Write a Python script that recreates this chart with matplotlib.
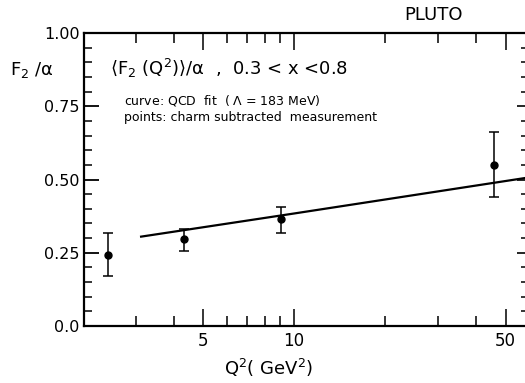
import numpy as np
import matplotlib
matplotlib.use("Agg")
import matplotlib.pyplot as plt
from matplotlib.ticker import FixedLocator, NullFormatter

plt.rcParams['font.family'] = ['DejaVu Sans']
plt.rcParams['mathtext.default'] = 'regular'

# measured points (charm subtracted)
q2 = [2.42, 4.33, 9.08, 45.7]
f2 = [0.242, 0.296, 0.364, 0.549]
err_up = [0.075, 0.035, 0.041, 0.112]
err_dn = [0.071, 0.039, 0.046, 0.108]

# QCD fit curve
fit_q2 = [3.12, 10.0, 58.0]
fit_f2 = [0.305, 0.384, 0.505]

x_major = [5, 10, 50]
x_minor = [3, 4, 6, 7, 8, 9, 20, 30, 40]
y_major = [0.0, 0.25, 0.50, 0.75, 1.00]
y_labels = ['0.0', '0.25', '0.50', '0.75', '1.00']

W, H = 525, 383
fig = plt.figure(figsize=(W / 100, H / 100), dpi=100)
ax = fig.add_axes([84 / W, 1 - 326 / H, 1.0 - 84 / W, (326 - 33) / H])

ax.plot(fit_q2, fit_f2, color='black', lw=1.6)
ax.errorbar(q2, f2, yerr=[err_dn, err_up], fmt='o', color='black',
            ms=5, elinewidth=1.1, capsize=3.5, capthick=1.1)

ax.set_xscale('log')
ax.set_xlim(2.02, 58)
ax.set_ylim(0, 1.0)

ax.xaxis.set_major_locator(FixedLocator(x_major))
ax.xaxis.set_minor_locator(FixedLocator(x_minor))
ax.xaxis.set_minor_formatter(NullFormatter())
ax.set_xticklabels(['5', '10', '50'])
ax.yaxis.set_major_locator(FixedLocator(y_major))
ax.yaxis.set_minor_locator(FixedLocator(np.arange(0.05, 1.0, 0.05)))
ax.set_yticklabels(y_labels)

ax.tick_params(axis='x', which='major', direction='in', length=12, width=1.1,
               top=True, labelsize=12, pad=4)
ax.tick_params(axis='x', which='minor', direction='in', length=7, width=1.1, top=True)
ax.tick_params(axis='y', which='major', direction='in', length=11, width=1.3,
               labelsize=11.5, pad=3)
ax.tick_params(axis='y', which='minor', direction='in', length=6, width=1.1)

for side in ['left', 'bottom', 'top']:
    ax.spines[side].set_linewidth(1.6)
ax.spines['right'].set_visible(False)

# short ticks on the right edge
rax = ax.secondary_yaxis('right')
rax.yaxis.set_major_locator(FixedLocator(y_major))
rax.yaxis.set_minor_locator(FixedLocator(np.arange(0.05, 1.0, 0.05)))
rax.tick_params(which='major', direction='in', length=6, width=1.2, labelright=False)
rax.tick_params(which='minor', direction='in', length=3, width=1.1)
rax.spines['right'].set_visible(False)

fig.text(10 / W, 1 - 70 / H, r'F$_2$ /$\alpha$', fontsize=13, va='center')
fig.text(433 / W, 1 - 15 / H, 'PLUTO', fontsize=13, va='center', ha='center')
fig.text(110 / W, 1 - 68 / H,
         r'$\langle$F$_2$ (Q$^2$)$\rangle$/$\alpha$  ,  0.3 < x <0.8',
         fontsize=13, va='center')
fig.text(124 / W, 1 - 100 / H, r'curve: QCD  fit  ( $\Lambda$ = 183 MeV)',
         fontsize=9, va='center')
fig.text(124 / W, 1 - 118 / H, 'points: charm subtracted  measurement',
         fontsize=9, va='center')
fig.text(269 / W, 1 - 368 / H, r'Q$^2$( GeV$^2$)', fontsize=13,
         va='center', ha='center')

fig.savefig('out.png', dpi=100)
